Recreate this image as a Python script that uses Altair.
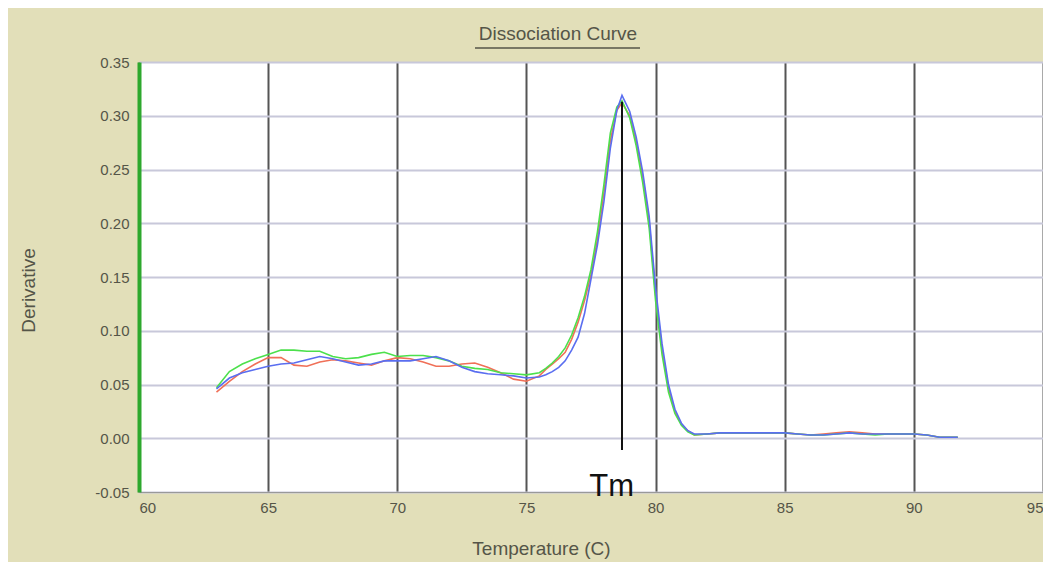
import altair as alt
import pandas as pd

temps = [63.0, 63.5, 64.0, 64.5, 65.0, 65.5, 66.0, 66.5, 67.0, 67.5, 68.0, 68.5, 69.0, 69.5,
         70.0, 70.5, 71.0, 71.5, 72.0, 72.5, 73.0, 73.5, 74.0, 74.5, 75.0, 75.5,
         75.75, 76.0, 76.25, 76.5, 76.75, 77.0, 77.25, 77.5, 77.75, 78.0, 78.25, 78.5, 78.7,
         79.0, 79.25, 79.5, 79.75, 80.0, 80.25, 80.5, 80.75, 81.0, 81.25, 81.5,
         82.0, 82.5, 83.0, 83.5, 84.0, 84.5, 85.0, 85.5, 86.0, 86.5, 87.0, 87.5, 88.0, 88.5,
         89.0, 89.5, 90.0, 90.5, 91.0, 91.5, 91.7]

red = [0.043, 0.053, 0.062, 0.069, 0.075, 0.075, 0.068, 0.067, 0.071, 0.073, 0.072, 0.070, 0.068, 0.072,
       0.075, 0.074, 0.071, 0.067, 0.067, 0.069, 0.070, 0.066, 0.061, 0.055, 0.053, 0.058,
       0.064, 0.069, 0.074, 0.080, 0.092, 0.108, 0.128, 0.152, 0.185, 0.228, 0.277, 0.305, 0.312,
       0.300, 0.276, 0.244, 0.202, 0.134, 0.083, 0.047, 0.025, 0.013, 0.007, 0.003,
       0.004, 0.005, 0.005, 0.005, 0.005, 0.005, 0.005, 0.004, 0.003, 0.004, 0.005, 0.006, 0.005, 0.004,
       0.004, 0.004, 0.004, 0.003, 0.001, 0.001, 0.001]

green = [0.047, 0.062, 0.069, 0.074, 0.078, 0.082, 0.082, 0.081, 0.081, 0.076, 0.074, 0.075, 0.078, 0.080,
         0.076, 0.077, 0.077, 0.075, 0.072, 0.067, 0.065, 0.064, 0.061, 0.060, 0.059, 0.061,
         0.065, 0.070, 0.076, 0.084, 0.096, 0.112, 0.132, 0.157, 0.192, 0.236, 0.284, 0.308, 0.314,
         0.298, 0.272, 0.238, 0.196, 0.128, 0.078, 0.043, 0.023, 0.012, 0.006, 0.003,
         0.004, 0.005, 0.005, 0.005, 0.005, 0.005, 0.005, 0.004, 0.003, 0.003, 0.004, 0.005, 0.004, 0.003,
         0.004, 0.004, 0.004, 0.003, 0.001, 0.001, 0.001]

blue = [0.046, 0.056, 0.061, 0.064, 0.067, 0.069, 0.070, 0.073, 0.076, 0.074, 0.071, 0.068, 0.069, 0.072,
        0.072, 0.072, 0.074, 0.076, 0.072, 0.066, 0.062, 0.060, 0.059, 0.058, 0.056, 0.057,
        0.059, 0.062, 0.066, 0.072, 0.082, 0.094, 0.116, 0.148, 0.180, 0.220, 0.270, 0.305, 0.319,
        0.304, 0.280, 0.248, 0.207, 0.140, 0.088, 0.050, 0.027, 0.014, 0.007, 0.004,
        0.004, 0.005, 0.005, 0.005, 0.005, 0.005, 0.005, 0.004, 0.003, 0.003, 0.004, 0.005, 0.004, 0.004,
        0.004, 0.004, 0.004, 0.003, 0.001, 0.001, 0.001]

series_names = ["red", "green", "blue"]
series_colors = ["#F07058", "#4CE04C", "#5A6EF0"]

tm_temp = 78.7
tm_low = -0.011
tm_high = 0.313

rows = []
for name, vals in zip(series_names, [red, green, blue]):
    for i, (t, v) in enumerate(zip(temps, vals)):
        rows.append({"series": name, "order": i, "T": t, "D": v})
df = pd.DataFrame(rows)

FONT = "Liberation Sans"
TXT = "#555548"

xscale = alt.Scale(domain=[60, 95], nice=False, zero=False)
yscale = alt.Scale(domain=[-0.05, 0.35], nice=False, zero=False)

xaxis = alt.Axis(values=[60, 65, 70, 75, 80, 85, 90, 95], title="Temperature (C)",
                 grid=True, gridColor="#555555", gridWidth=2, gridOpacity=1,
                 ticks=False, domainColor="#999999", domainWidth=1,
                 labelFont=FONT, labelFontSize=15, labelColor=TXT, labelPadding=8,
                 titleFont=FONT, titleFontSize=19, titleFontWeight="normal", titleColor=TXT,
                 titleX=402, titleY=62, titleAlign="center", titleBaseline="alphabetic")
yaxis = alt.Axis(values=[-0.05, 0.0, 0.05, 0.10, 0.15, 0.20, 0.25, 0.30, 0.35], title="Derivative",
                 labelExpr="(datum.value < 0 ? '-' : '') + format(abs(datum.value), '.2f')",
                 grid=True, gridColor="#C8C8DA", gridWidth=2, gridOpacity=1,
                 ticks=False, domainColor="#2DA82D", domainWidth=4,
                 labelFont=FONT, labelFontSize=15, labelColor=TXT, labelPadding=10,
                 titleFont=FONT, titleFontSize=19, titleFontWeight="normal", titleColor=TXT,
                 titleX=-111, titleY=228, titleAlign="center", titleBaseline="middle", titleAngle=-90)

lines = alt.Chart(df).mark_line(strokeWidth=1.6).encode(
    x=alt.X("T:Q", scale=xscale, axis=xaxis),
    y=alt.Y("D:Q", scale=yscale, axis=yaxis),
    color=alt.Color("series:N", scale=alt.Scale(domain=series_names, range=series_colors), legend=None),
    order="order:Q",
    detail="series:N",
)

tm_df = pd.DataFrame({"T": [tm_temp], "lo": [tm_low], "hi": [tm_high]})
tm_rule = alt.Chart(tm_df).mark_rule(color="#111111", strokeWidth=2).encode(
    x=alt.X("T:Q", scale=xscale), y=alt.Y("lo:Q", scale=yscale), y2="hi:Q")

tm_text_df = pd.DataFrame({"T": [78.3], "D": [-0.05], "label": ["Tm"]})
tm_text = alt.Chart(tm_text_df).mark_text(font=FONT, fontSize=31, color="#111111",
                                          baseline="alphabetic", align="center", dy=4).encode(
    x=alt.X("T:Q", scale=xscale), y=alt.Y("D:Q", scale=yscale), text="label:N")

underline = alt.Chart(pd.DataFrame({"a": [0]})).mark_rule(color=TXT, strokeWidth=1.5).encode(
    x=alt.value(336), x2=alt.value(501), y=alt.value(-14))

chart = alt.layer(lines, tm_rule, tm_text, underline).properties(
    width=904, height=430,
    title=alt.TitleParams("Dissociation Curve", font=FONT, fontSize=19, fontWeight="normal",
                          color=TXT, anchor="middle", dx=-33, offset=3),
    background="#E2DFB9",
    padding={"left": 131, "top": 54, "right": 0, "bottom": 70},
    autosize=alt.AutoSizeParams(type="none"),
).configure_view(fill="white", stroke="#999999", strokeWidth=1)

chart.save("out.html", embed_options={"renderer": "svg", "actions": False})
